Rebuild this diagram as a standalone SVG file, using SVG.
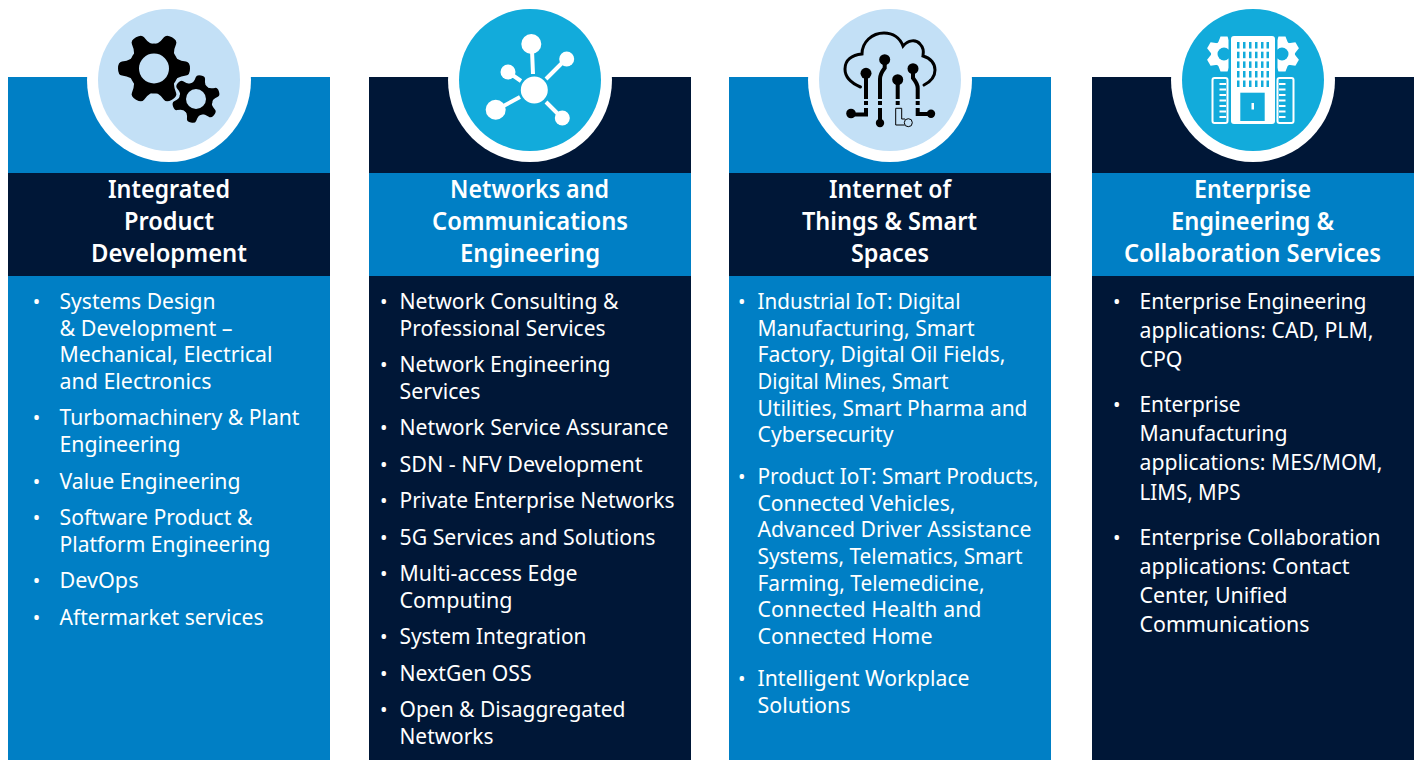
<svg xmlns="http://www.w3.org/2000/svg" xmlns:xlink="http://www.w3.org/1999/xlink" width="1418" height="760" viewBox="0 0 1418 760">
<style>
text{font-family:"Noto Sans","Open Sans","Liberation Sans",sans-serif;fill:#fff}
.t{font-size:24.5px;font-weight:600}
.b{font-size:22.5px}
.d{font-size:20px}
.blue{fill:#007fc5}.navy{fill:#001737}.ring{fill:#fff}.light{fill:#c3e0f6}.cyan{fill:#12abdb}
.k{fill:#000}.ks{stroke:#000;fill:none;stroke-width:4}.ko{stroke:#000;fill:none;stroke-width:3;stroke-linecap:round}
.w{fill:#fff}.ws{stroke:#fff;fill:none;stroke-width:4}
</style>
<defs>
<g id="gear"><circle r="25" class="k"/><path id="tooth" class="k" d="M-15,-18Q-8,-22-7,-32Q-6.500,-36 0,-36Q6.500,-36 7,-32Q8,-22 15,-18Z"/>
<use xlink:href="#tooth" href="#tooth" transform="rotate(60)"/><use xlink:href="#tooth" href="#tooth" transform="rotate(120)"/><use xlink:href="#tooth" href="#tooth" transform="rotate(180)"/><use xlink:href="#tooth" href="#tooth" transform="rotate(240)"/><use xlink:href="#tooth" href="#tooth" transform="rotate(300)"/></g>
<g id="wgear"><circle r="13" class="w"/><path id="wtooth" class="w" d="M-6,-11L-3.500,-17.500H3.500L6,-11Z"/>
<use xlink:href="#wtooth" href="#wtooth" transform="rotate(60)"/><use xlink:href="#wtooth" href="#wtooth" transform="rotate(120)"/><use xlink:href="#wtooth" href="#wtooth" transform="rotate(180)"/><use xlink:href="#wtooth" href="#wtooth" transform="rotate(240)"/><use xlink:href="#wtooth" href="#wtooth" transform="rotate(300)"/></g>
</defs>
<rect width="1418" height="760" fill="#fff"/>
<g id="node-integrated-product-development">
<rect x="8" y="77" width="322" height="683" class="blue"/>
<rect x="8" y="173" width="322" height="103" class="navy"/>
<circle cx="169" cy="80" r="82" class="ring"/><circle cx="169" cy="80" r="71" class="light"/>
<use xlink:href="#gear" href="#gear" transform="translate(154,68.500) rotate(30)"/><circle cx="154" cy="68.500" r="15" class="light"/>
<use xlink:href="#gear" href="#gear" transform="translate(196,99) rotate(12) scale(.67)"/><circle cx="196" cy="99" r="10" class="light"/>
<text class="t" x="108" y="198" textLength="122" lengthAdjust="spacingAndGlyphs">Integrated</text>
<text class="t" x="124" y="230" textLength="90" lengthAdjust="spacingAndGlyphs">Product</text>
<text class="t" x="91" y="262" textLength="156" lengthAdjust="spacingAndGlyphs">Development</text>
<text class="d" x="32.700" y="309">•</text><text class="d" x="32.700" y="425">•</text><text class="d" x="32.700" y="489">•</text><text class="d" x="32.700" y="525">•</text><text class="d" x="32.700" y="588">•</text><text class="d" x="32.700" y="625">•</text>
<text class="b" x="59.500" y="309" textLength="156" lengthAdjust="spacingAndGlyphs">Systems Design</text>
<text class="b" x="59.500" y="336" textLength="173" lengthAdjust="spacingAndGlyphs">&amp; Development –</text>
<text class="b" x="59.500" y="362" textLength="213" lengthAdjust="spacingAndGlyphs">Mechanical, Electrical</text>
<text class="b" x="59.500" y="389" textLength="152" lengthAdjust="spacingAndGlyphs">and Electronics</text>
<text class="b" x="59.500" y="425" textLength="240" lengthAdjust="spacingAndGlyphs">Turbomachinery &amp; Plant</text>
<text class="b" x="59.500" y="452" textLength="121" lengthAdjust="spacingAndGlyphs">Engineering</text>
<text class="b" x="59.500" y="489" textLength="181" lengthAdjust="spacingAndGlyphs">Value Engineering</text>
<text class="b" x="59.500" y="525" textLength="193" lengthAdjust="spacingAndGlyphs">Software Product &amp;</text>
<text class="b" x="59.500" y="552" textLength="211" lengthAdjust="spacingAndGlyphs">Platform Engineering</text>
<text class="b" x="59.500" y="588" textLength="79" lengthAdjust="spacingAndGlyphs">DevOps</text>
<text class="b" x="59.500" y="625" textLength="204" lengthAdjust="spacingAndGlyphs">Aftermarket services</text>
</g>
<g id="node-networks-communications">
<rect x="369" y="77" width="322" height="683" class="navy"/>
<rect x="369" y="173" width="322" height="103" class="blue"/>
<circle cx="530" cy="80" r="82" class="ring"/><circle cx="530" cy="80" r="71" class="cyan"/>
<circle cx="534.300" cy="90" r="13.500" class="w"/>
<circle cx="531.300" cy="44" r="10" class="w"/><circle cx="566.700" cy="59" r="7.500" class="w"/><circle cx="508" cy="72" r="7.500" class="w"/><circle cx="495.700" cy="109.700" r="10" class="w"/><circle cx="562.300" cy="118" r="7.500" class="w"/>
<path class="ws" d="M532,50L533,74M566,59L546,79M508,72L521,81M496,110L520,97M562,118L546,102"/>
<text class="t" x="450" y="198" textLength="159" lengthAdjust="spacingAndGlyphs">Networks and</text>
<text class="t" x="432" y="230" textLength="196" lengthAdjust="spacingAndGlyphs">Communications</text>
<text class="t" x="460" y="262" textLength="140" lengthAdjust="spacingAndGlyphs">Engineering</text>
<text class="d" x="380" y="309">•</text><text class="d" x="380" y="372">•</text><text class="d" x="380" y="435">•</text><text class="d" x="380" y="472">•</text><text class="d" x="380" y="508">•</text><text class="d" x="380" y="545">•</text><text class="d" x="380" y="581">•</text><text class="d" x="380" y="644">•</text><text class="d" x="380" y="681">•</text><text class="d" x="380" y="717">•</text>
<text class="b" x="399.500" y="309" textLength="219" lengthAdjust="spacingAndGlyphs">Network Consulting &amp;</text>
<text class="b" x="399.500" y="336" textLength="206" lengthAdjust="spacingAndGlyphs">Professional Services</text>
<text class="b" x="399.500" y="372" textLength="211" lengthAdjust="spacingAndGlyphs">Network Engineering</text>
<text class="b" x="399.500" y="399" textLength="81" lengthAdjust="spacingAndGlyphs">Services</text>
<text class="b" x="399.500" y="435" textLength="269" lengthAdjust="spacingAndGlyphs">Network Service Assurance</text>
<text class="b" x="399.500" y="472" textLength="243" lengthAdjust="spacingAndGlyphs">SDN - NFV Development</text>
<text class="b" x="399.500" y="508" textLength="275" lengthAdjust="spacingAndGlyphs">Private Enterprise Networks</text>
<text class="b" x="399.500" y="545" textLength="256" lengthAdjust="spacingAndGlyphs">5G Services and Solutions</text>
<text class="b" x="399.500" y="581" textLength="178" lengthAdjust="spacingAndGlyphs">Multi-access Edge</text>
<text class="b" x="399.500" y="608" textLength="113" lengthAdjust="spacingAndGlyphs">Computing</text>
<text class="b" x="399.500" y="644" textLength="187" lengthAdjust="spacingAndGlyphs">System Integration</text>
<text class="b" x="399.500" y="681" textLength="132" lengthAdjust="spacingAndGlyphs">NextGen OSS</text>
<text class="b" x="399.500" y="717" textLength="226" lengthAdjust="spacingAndGlyphs">Open &amp; Disaggregated</text>
<text class="b" x="399.500" y="744" textLength="94" lengthAdjust="spacingAndGlyphs">Networks</text>
</g>
<g id="node-iot-smart-spaces">
<rect x="729" y="77" width="322" height="683" class="blue"/>
<rect x="729" y="173" width="322" height="103" class="navy"/>
<circle cx="890" cy="80" r="82" class="ring"/><circle cx="890" cy="80" r="71" class="light"/>
<path class="ko" d="M860.500,87C851,83 845,77 845,69C845,60 852,55 862,54C862,42 872,33 884,33C893,33 900,38 903,46C908,40 916,39 920,44C923,47 924,51 923,56C931,58 935,64 935,70C935,77 930,82 924,85"/>
<g class="k">
<circle cx="866" cy="73.300" r="5.500"/><circle cx="884.700" cy="59.700" r="5.500"/><circle cx="897.700" cy="79.700" r="5.500"/><circle cx="913" cy="68.700" r="5.500"/>
<circle cx="851" cy="113.500" r="4.800"/><circle cx="880" cy="123" r="4.200"/><circle cx="931" cy="113.800" r="4.200"/>
<rect x="864" y="101" width="4" height="4"/><rect x="878" y="101" width="4" height="4"/><rect x="895.700" y="101" width="4" height="4"/><rect x="915.700" y="101" width="4" height="4"/>
</g>
<path class="ks" d="M866,73V99M866,108V114.500H851M880,108V123M880,99V79Q880,74 884.700,68V60M897.700,80V99M917.700,99V88Q917.700,84 913,78V69M917.700,108V114H931"/>
<path d="M895.700,108.300H901.700V119H905M904.700,125H895.700V108.300" fill="none" stroke="#000" stroke-width="1"/><circle cx="908.300" cy="122.700" r="4" class="light" stroke="#000" stroke-width="1"/>
<text class="t" x="829" y="198" textLength="122" lengthAdjust="spacingAndGlyphs">Internet of</text>
<text class="t" x="802" y="230" textLength="175" lengthAdjust="spacingAndGlyphs">Things &amp; Smart</text>
<text class="t" x="851" y="262" textLength="78" lengthAdjust="spacingAndGlyphs">Spaces</text>
<text class="d" x="738" y="309">•</text><text class="d" x="738" y="484">•</text><text class="d" x="738" y="686">•</text>
<text class="b" x="757.500" y="309" textLength="203" lengthAdjust="spacingAndGlyphs">Industrial IoT: Digital</text>
<text class="b" x="757.500" y="336" textLength="217" lengthAdjust="spacingAndGlyphs">Manufacturing, Smart</text>
<text class="b" x="757.500" y="362" textLength="248" lengthAdjust="spacingAndGlyphs">Factory, Digital Oil Fields,</text>
<text class="b" x="757.500" y="389" textLength="191" lengthAdjust="spacingAndGlyphs">Digital Mines, Smart</text>
<text class="b" x="757.500" y="416" textLength="270" lengthAdjust="spacingAndGlyphs">Utilities, Smart Pharma and</text>
<text class="b" x="757.500" y="442" textLength="136" lengthAdjust="spacingAndGlyphs">Cybersecurity</text>
<text class="b" x="757.500" y="484" textLength="281" lengthAdjust="spacingAndGlyphs">Product IoT: Smart Products,</text>
<text class="b" x="757.500" y="511" textLength="198" lengthAdjust="spacingAndGlyphs">Connected Vehicles,</text>
<text class="b" x="757.500" y="537" textLength="274" lengthAdjust="spacingAndGlyphs">Advanced Driver Assistance</text>
<text class="b" x="757.500" y="564" textLength="265" lengthAdjust="spacingAndGlyphs">Systems, Telematics, Smart</text>
<text class="b" x="757.500" y="591" textLength="227" lengthAdjust="spacingAndGlyphs">Farming, Telemedicine,</text>
<text class="b" x="757.500" y="617" textLength="224" lengthAdjust="spacingAndGlyphs">Connected Health and</text>
<text class="b" x="757.500" y="644" textLength="175" lengthAdjust="spacingAndGlyphs">Connected Home</text>
<text class="b" x="757.500" y="686" textLength="212" lengthAdjust="spacingAndGlyphs">Intelligent Workplace</text>
<text class="b" x="757.500" y="713" textLength="93" lengthAdjust="spacingAndGlyphs">Solutions</text>
</g>
<g id="node-enterprise-engineering">
<rect x="1092" y="77" width="322" height="683" class="navy"/>
<rect x="1092" y="173" width="322" height="103" class="blue"/>
<circle cx="1253" cy="80" r="82" class="ring"/><circle cx="1253" cy="80" r="71" class="cyan"/>
<use xlink:href="#wgear" href="#wgear" transform="translate(1224,54)"/><use xlink:href="#wgear" href="#wgear" transform="translate(1282,54)"/>
<circle cx="1224" cy="54" r="6.500" class="cyan"/><circle cx="1282" cy="54" r="6.500" class="cyan"/>
<rect x="1228.500" y="34" width="49" height="92" class="cyan"/>
<rect x="1231" y="36" width="44" height="88" rx="3" class="w"/>
<g class="cyan" id="win"><rect x="1237" y="42" width="2.500" height="6.500"/><rect x="1243" y="42" width="2.500" height="6.500"/><rect x="1249" y="42" width="2.500" height="6.500"/><rect x="1255" y="42" width="2.500" height="6.500"/><rect x="1261" y="42" width="2.500" height="6.500"/><rect x="1266.500" y="42" width="2.500" height="6.500"/></g>
<use xlink:href="#win" href="#win" y="9.700"/><use xlink:href="#win" href="#win" y="19.400"/><use xlink:href="#win" href="#win" y="29"/><use xlink:href="#win" href="#win" y="38.500"/>
<rect x="1240.300" y="92.700" width="24.400" height="28.300" class="cyan"/>
<rect x="1251.500" y="103" width="2.500" height="6.500" class="w"/>
<rect x="1212.500" y="78" width="15" height="45" rx="2" class="cyan" stroke="#fff" stroke-width="2"/>
<rect x="1277.500" y="78" width="16" height="45" rx="2" class="cyan" stroke="#fff" stroke-width="2"/>
<path stroke="#fff" stroke-width="2.200" fill="none" d="M1219.500,84h6.500M1219.500,89.500h6.500M1219.500,95h6.500M1219.500,100.500h6.500M1219.500,106h6.500M1219.500,111.500h6.500M1219.500,117h6.500M1279,84h6.500M1279,89.500h6.500M1279,95h6.500M1279,100.500h6.500M1279,106h6.500M1279,111.500h6.500M1279,117h6.500"/>
<text class="t" x="1194" y="198" textLength="117" lengthAdjust="spacingAndGlyphs">Enterprise</text>
<text class="t" x="1171" y="230" textLength="163" lengthAdjust="spacingAndGlyphs">Engineering &amp;</text>
<text class="t" x="1124" y="262" textLength="257" lengthAdjust="spacingAndGlyphs">Collaboration Services</text>
<text class="d" x="1113" y="309">•</text><text class="d" x="1113" y="412">•</text><text class="d" x="1113" y="545">•</text>
<text class="b" x="1139.500" y="309" textLength="227" lengthAdjust="spacingAndGlyphs">Enterprise Engineering</text>
<text class="b" x="1139.500" y="338" textLength="234" lengthAdjust="spacingAndGlyphs">applications: CAD, PLM,</text>
<text class="b" x="1139.500" y="367" textLength="43" lengthAdjust="spacingAndGlyphs">CPQ</text>
<text class="b" x="1139.500" y="412" textLength="101" lengthAdjust="spacingAndGlyphs">Enterprise</text>
<text class="b" x="1139.500" y="441" textLength="148" lengthAdjust="spacingAndGlyphs">Manufacturing</text>
<text class="b" x="1139.500" y="470" textLength="243" lengthAdjust="spacingAndGlyphs">applications: MES/MOM,</text>
<text class="b" x="1139.500" y="500" textLength="101" lengthAdjust="spacingAndGlyphs">LIMS, MPS</text>
<text class="b" x="1139.500" y="545" textLength="241" lengthAdjust="spacingAndGlyphs">Enterprise Collaboration</text>
<text class="b" x="1139.500" y="574" textLength="210" lengthAdjust="spacingAndGlyphs">applications: Contact</text>
<text class="b" x="1139.500" y="603" textLength="148" lengthAdjust="spacingAndGlyphs">Center, Unified</text>
<text class="b" x="1139.500" y="632" textLength="170" lengthAdjust="spacingAndGlyphs">Communications</text>
</g>
<g id="connectors"/>
</svg>
